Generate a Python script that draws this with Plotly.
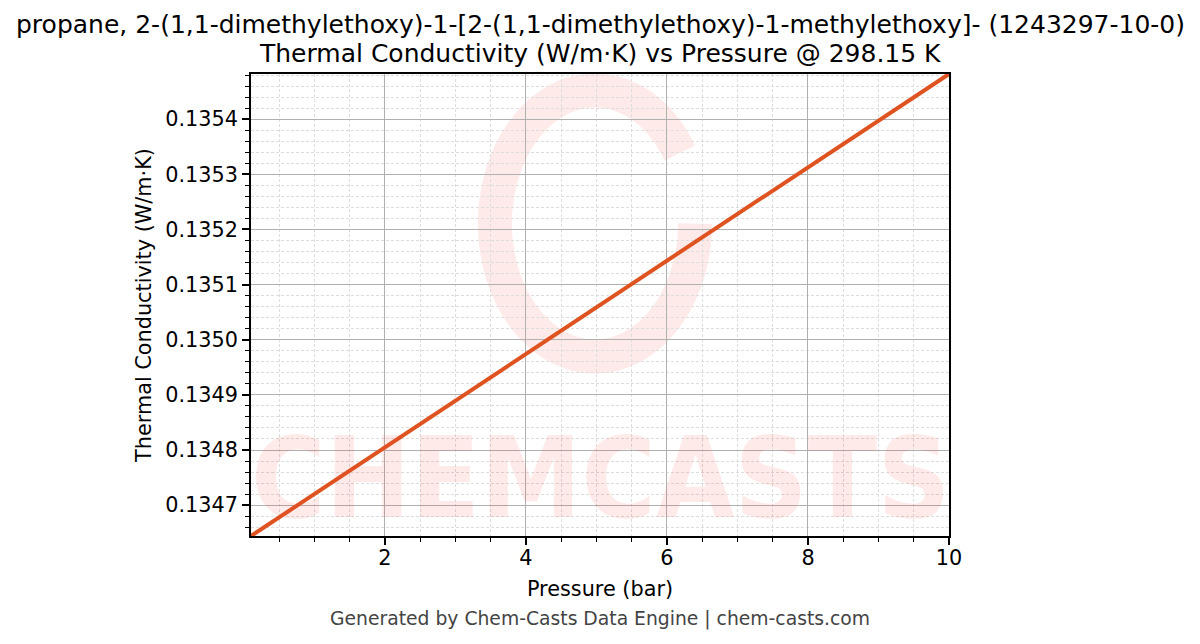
import numpy as np
import plotly.graph_objects as go

# ---- data ----
pressure_bar = [0.1, 1, 2, 3, 4, 5, 6, 7, 8, 9, 10]
thermal_conductivity = [0.134644, 0.134720, 0.134805, 0.134889, 0.134974,
                        0.135059, 0.135143, 0.135228, 0.135312, 0.135397, 0.135482]

title_line1 = "propane, 2-(1,1-dimethylethoxy)-1-[2-(1,1-dimethylethoxy)-1-methylethoxy]- (1243297-10-0)"
title_line2 = "Thermal Conductivity (W/m·K) vs Pressure @ 298.15 K"
x_label = "Pressure (bar)"
y_label = "Thermal Conductivity (W/m·K)"
footer = "Generated by Chem-Casts Data Engine | chem-casts.com"
watermark = "CHEMCASTS"

FONT = "DejaVu Sans"
LINE_COLOR = "#DF5320"
WM_COLOR = "rgba(244,67,54,0.11)"

fig = go.Figure()
fig.add_trace(go.Scatter(
    x=pressure_bar, y=thermal_conductivity, mode="lines",
    line=dict(color=LINE_COLOR, width=4), showlegend=False,
))

# watermark ring (decorative), built in paper coordinates
ang = np.deg2rad(np.linspace(32, 360, 120))
cx, cy, rx, ry = 0.4928, 0.6764, 0.1433, 0.2879
px = cx + rx * np.cos(ang)
py = cy + ry * np.sin(ang)
path = "M " + " L ".join(f"{a:.4f},{b:.4f}" for a, b in zip(px, py))
fig.add_shape(type="path", path=path, xref="paper", yref="paper",
              line=dict(color=WM_COLOR, width=34), layer="below")

fig.add_annotation(text=f"<b>{watermark}</b>", x=0.5, y=0.125, xref="paper", yref="paper",
                   showarrow=False, xanchor="center", yanchor="middle",
                   font=dict(family="DejaVu Sans Condensed, DejaVu Sans",
                             size=113, color=WM_COLOR))

# titles (two lines)
fig.add_annotation(text=title_line1, x=0.5, y=1.1071, xref="paper", yref="paper",
                   showarrow=False, xanchor="center", yanchor="middle",
                   font=dict(family=FONT, size=25, color="black"))
fig.add_annotation(text=title_line2, x=0.5, y=1.0444, xref="paper", yref="paper",
                   showarrow=False, xanchor="center", yanchor="middle",
                   font=dict(family=FONT, size=25, color="black"))

fig.add_annotation(text=footer, x=0.5, y=-0.1797, xref="paper", yref="paper",
                   showarrow=False, xanchor="center", yanchor="middle",
                   font=dict(family=FONT, size=18.75, color="#444444"))

axis_common = dict(
    showline=True, linecolor="black", linewidth=1.7, mirror=True,
    ticks="outside", ticklen=7, tickwidth=1.6, tickcolor="black",
    showgrid=True, gridcolor="#b0b0b0", gridwidth=1,
    zeroline=False,
    tickfont=dict(family=FONT, size=20.8, color="black"),
)

fig.update_xaxes(
    **axis_common,
    range=[0.1, 10], tick0=0, dtick=2, ticklabelstandoff=-5,
    title=dict(text=x_label, font=dict(family=FONT, size=20.8, color="black"), standoff=13),
    minor=dict(ticks="outside", ticklen=4, tickwidth=1.2, tickcolor="black", dtick=0.5, tick0=0,
               showgrid=True, gridcolor="#dddddd", gridwidth=0.8, griddash="3px,2px"),
)
fig.update_yaxes(
    **axis_common,
    range=[0.134644, 0.135482], tick0=0.1347, dtick=0.0001, tickformat=".4f",
    title=dict(text=y_label, font=dict(family=FONT, size=20.8, color="black"), standoff=8),
    minor=dict(ticks="outside", ticklen=4, tickwidth=1.2, tickcolor="black", dtick=0.00002, tick0=0.1347,
               showgrid=True, gridcolor="#dddddd", gridwidth=0.8, griddash="3px,2px"),
)

# the page adds an 8px body margin, so the figure is 8px smaller on each used side
fig.update_layout(
    width=1192, height=636,
    margin=dict(l=243, r=251, t=66, b=108, autoexpand=False),
    plot_bgcolor="white", paper_bgcolor="white",
    font=dict(family=FONT),
)

fig.write_html("out.html")
